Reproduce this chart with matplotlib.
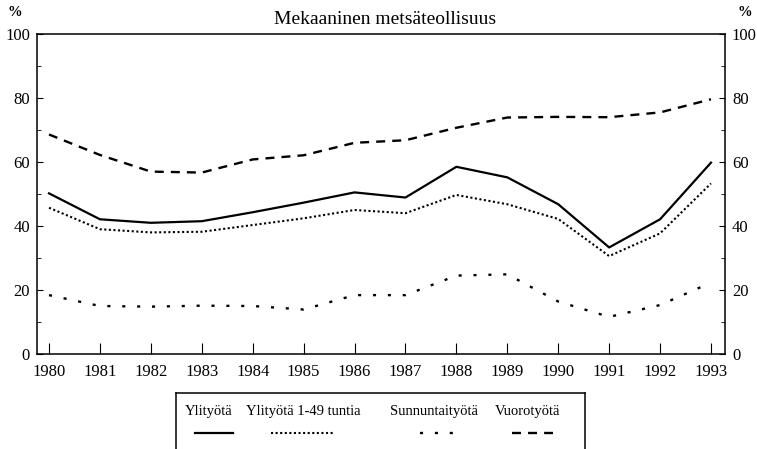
import matplotlib
matplotlib.use("Agg")
import matplotlib.pyplot as plt
from matplotlib.lines import Line2D

plt.rcParams['font.family'] = ['Liberation Serif', 'DejaVu Serif']

years = list(range(1980, 1994))
ylityo = [50.2, 42.1, 41.0, 41.5, 44.3, 47.3, 50.5, 48.9, 58.5, 55.2, 46.8, 33.3, 42.1, 59.8]
ylityo_1_49 = [45.7, 39.0, 38.0, 38.2, 40.3, 42.4, 45.0, 44.0, 49.7, 46.8, 42.2, 30.6, 37.7, 53.3]
sunnuntai = [18.4, 15.0, 14.8, 15.1, 15.0, 13.9, 18.4, 18.4, 24.5, 24.9, 16.4, 11.6, 15.3, 22.3]
vuoro = [68.6, 62.2, 57.0, 56.7, 60.8, 62.1, 66.0, 66.8, 70.7, 73.9, 74.1, 74.0, 75.5, 79.6]
labels = ["Ylityötä", "Ylityötä 1-49 tuntia", "Sunnuntaityötä", "Vuorotyötä"]
title = "Mekaaninen metsäteollisuus"
yticks = [0, 20, 40, 60, 80, 100]

W, H = 757, 449
fig = plt.figure(figsize=(W / 100, H / 100), dpi=100)
ax = fig.add_axes([37 / W, (H - 354) / H, (725 - 37) / W, (354 - 34) / H])

styles = [
    dict(color='black', lw=1.6, linestyle='-'),
    dict(color='black', lw=1.5, linestyle=(0, (1, 1.2))),
    dict(color='black', lw=1.7, linestyle=(0, (1.3, 5))),
    dict(color='black', lw=1.7, linestyle=(0, (3.8, 3))),
]
for data, st in zip([ylityo, ylityo_1_49, sunnuntai, vuoro], styles):
    ax.plot(years, data, **st)

ax.set_xlim(1979.764, 1993.275)
ax.set_ylim(0, 100)
ax.set_xticks(years)
ax.set_xticklabels([str(y) for y in years], fontsize=12)
ax.set_yticks(yticks)
ax.set_yticks(range(10, 100, 20), minor=True)
ax.tick_params(axis='x', direction='in', length=8, width=0.8, pad=7)
ax.tick_params(axis='y', which='major', direction='in', length=4, width=0.8,
               labelsize=12, left=True, right=True, labelleft=True, labelright=True, pad=5)
ax.tick_params(axis='y', which='minor', direction='in', length=3, width=0.6, left=True, right=True)
for s in ax.spines.values():
    s.set_linewidth(1.1)

fig.text(385 / W, 1 - 20 / H, title, ha='center', va='center', fontsize=14)
fig.text(15 / W, 1 - 13 / H, "%", ha='center', va='center', fontsize=10.5, fontweight='bold')
fig.text(745 / W, 1 - 13 / H, "%", ha='center', va='center', fontsize=10.5, fontweight='bold')

# legend box
lax = fig.add_axes([176 / W, (H - 470) / H, (585 - 176) / W, 77 / H])
lax.set_xlim(176, 585)
lax.set_ylim(470, 393)
lax.set_xticks([])
lax.set_yticks([])
for s in lax.spines.values():
    s.set_linewidth(1.1)
text_x = [209, 303, 434, 528]
seg = [(195, 233), (271, 335), (420, 458), (512, 553)]
for lab, tx, (x0, x1), st in zip(labels, text_x, seg, styles):
    lax.text(tx, 411, lab, ha='center', va='center', fontsize=10.5)
    lax.add_line(Line2D([x0, x1], [433, 433], **st))

fig.savefig("out.png", dpi=100)
